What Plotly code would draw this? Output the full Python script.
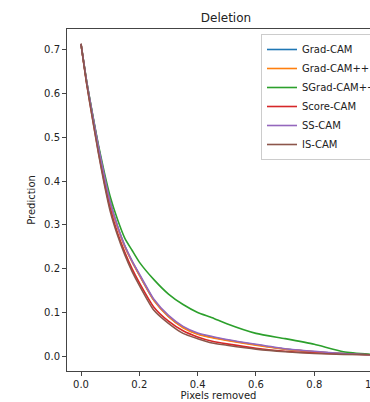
import plotly.graph_objects as go

# Fraction of pixels removed (x) and model prediction (y) per method
pixels_removed = [0.0, 0.02, 0.04, 0.06, 0.08, 0.10, 0.125, 0.15, 0.175, 0.20,
                  0.25, 0.30, 0.35, 0.40, 0.45, 0.50, 0.60, 0.70, 0.80, 0.90, 1.0]

grad_cam = [0.714, 0.625, 0.550, 0.478, 0.412, 0.352, 0.297, 0.252, 0.217, 0.186,
            0.128, 0.091, 0.066, 0.051, 0.043, 0.037, 0.026, 0.016, 0.010, 0.006, 0.003]
grad_cam_pp = [0.714, 0.624, 0.549, 0.477, 0.411, 0.351, 0.296, 0.251, 0.216, 0.185,
               0.127, 0.090, 0.065, 0.050, 0.042, 0.036, 0.025, 0.016, 0.010, 0.006, 0.003]
sgrad_cam_pp = [0.714, 0.626, 0.552, 0.482, 0.420, 0.365, 0.313, 0.270, 0.242, 0.215,
                0.175, 0.142, 0.118, 0.100, 0.088, 0.074, 0.052, 0.040, 0.027, 0.010, 0.004]
score_cam = [0.714, 0.621, 0.542, 0.466, 0.398, 0.338, 0.282, 0.238, 0.200, 0.168,
             0.112, 0.080, 0.058, 0.044, 0.034, 0.028, 0.018, 0.011, 0.007, 0.005, 0.003]
ss_cam = [0.714, 0.626, 0.551, 0.479, 0.413, 0.353, 0.298, 0.253, 0.218, 0.188,
          0.130, 0.093, 0.068, 0.053, 0.045, 0.038, 0.027, 0.017, 0.011, 0.006, 0.003]
is_cam = [0.714, 0.620, 0.540, 0.463, 0.393, 0.332, 0.277, 0.232, 0.194, 0.162,
          0.105, 0.075, 0.052, 0.040, 0.030, 0.025, 0.016, 0.010, 0.006, 0.004, 0.003]

series_names = ["Grad-CAM", "Grad-CAM++", "SGrad-CAM++", "Score-CAM", "SS-CAM", "IS-CAM"]
series_values = [grad_cam, grad_cam_pp, sgrad_cam_pp, score_cam, ss_cam, is_cam]
series_colors = ["#1f77b4", "#ff7f0e", "#2ca02c", "#d62728", "#9467bd", "#8c564b"]

x_tick_vals = [0.0, 0.2, 0.4, 0.6, 0.8]
x_tick_text = ["0.0", "0.2", "0.4", "0.6", "0.8"]
y_tick_vals = [0.0, 0.1, 0.2, 0.3, 0.4, 0.5, 0.6, 0.7]
y_tick_text = ["0.0", "0.1", "0.2", "0.3", "0.4", "0.5", "0.6", "0.7"]

FONT = "DejaVu Sans"
AXIS_COLOR = "#444444"
TEXT_COLOR = "#222222"

fig = go.Figure()
for name, vals, col in zip(series_names, series_values, series_colors):
    fig.add_trace(go.Scatter(
        x=pixels_removed, y=vals, name=name, mode="lines",
        line=dict(color=col, width=1.6, shape="spline", smoothing=0.6),
    ))

fig.update_layout(
    width=370, height=402,
    margin=dict(l=67, r=0, t=29, b=31, autoexpand=False),
    paper_bgcolor="white", plot_bgcolor="white",
    font=dict(family=FONT, size=10, color=TEXT_COLOR),
    title=dict(text="Deletion", x=(226 / 370), xanchor="center",
               y=1 - 18 / 402, yanchor="middle",
               font=dict(family=FONT, size=12, color=TEXT_COLOR)),
    showlegend=True,
    legend=dict(x=(261 - 67) / 303, y=1 - 5 / 342, xanchor="left", yanchor="top",
                bgcolor="rgba(255,255,255,0.85)", bordercolor="#cccccc", borderwidth=1,
                font=dict(family=FONT, size=10, color=TEXT_COLOR),
                tracegroupgap=0),
)

fig.update_xaxes(
    range=[-0.048, 0.991], tickvals=x_tick_vals, ticktext=x_tick_text,
    showgrid=False, zeroline=False,
    showline=True, linecolor=AXIS_COLOR, linewidth=1, mirror=True,
    ticks="outside", ticklen=4, tickcolor=AXIS_COLOR, tickwidth=1,
    tickfont=dict(family=FONT, size=10, color=TEXT_COLOR),
    title=dict(text="Pixels removed", font=dict(family=FONT, size=10, color=TEXT_COLOR), standoff=2),
)
fig.update_yaxes(
    range=[-0.034, 0.748], tickvals=y_tick_vals, ticktext=y_tick_text,
    showgrid=False, zeroline=False,
    showline=True, linecolor=AXIS_COLOR, linewidth=1, mirror=False,
    ticks="outside", ticklen=4, tickcolor=AXIS_COLOR, tickwidth=1,
    tickfont=dict(family=FONT, size=10, color=TEXT_COLOR),
    title=dict(text="Prediction", font=dict(family=FONT, size=10, color=TEXT_COLOR), standoff=6),
)

# the 1.0 tick label sits just past the right edge of the window (cut off in the reference)
fig.add_annotation(
    text="1.0", xref="paper", yref="paper", x=(372.6 - 67) / 303, y=0,
    xanchor="center", yanchor="top", yshift=-6, showarrow=False,
    font=dict(family=FONT, size=10, color=TEXT_COLOR),
)

fig.write_html("out.html")
